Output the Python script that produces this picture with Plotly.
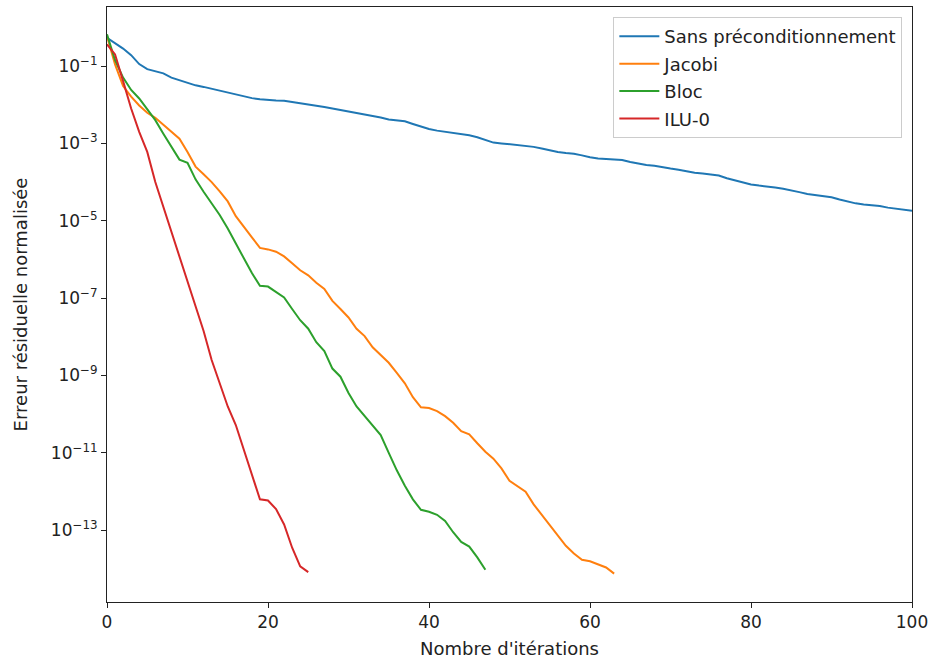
import numpy as np
import plotly.graph_objects as go

# log10 of normalized residual
sans_log = [-0.27, -0.40, -0.55, -0.72, -0.95, -1.08, -1.14, -1.19, -1.30, -1.37,
            -1.42, -1.50, -1.54, -1.59, -1.65, -1.70, -1.74, -1.80, -1.83, -1.86,
            -1.88, -1.89, -1.90, -1.93, -1.96, -2.00, -2.03, -2.06, -2.10, -2.14,
            -2.18, -2.21, -2.24, -2.28, -2.33, -2.38, -2.40, -2.43, -2.50, -2.57,
            -2.63, -2.67, -2.70, -2.72, -2.75, -2.79, -2.84, -2.92, -2.98, -3.00,
            -3.02, -3.04, -3.06, -3.09, -3.13, -3.18, -3.22, -3.25, -3.27, -3.31,
            -3.36, -3.39, -3.40, -3.41, -3.43, -3.48, -3.52, -3.56, -3.58, -3.62,
            -3.65, -3.68, -3.72, -3.76, -3.78, -3.80, -3.83, -3.90, -3.96, -4.02,
            -4.06, -4.09, -4.11, -4.14, -4.17, -4.21, -4.26, -4.31, -4.34, -4.36,
            -4.39, -4.45, -4.51, -4.55, -4.58, -4.60, -4.62, -4.66, -4.69, -4.72,
            -4.74]
jacobi_log = [-0.23, -0.96, -1.52, -1.79, -2.02, -2.21, -2.34, -2.52, -2.70, -2.88,
              -3.22, -3.60, -3.80, -4.00, -4.24, -4.50, -4.88, -5.14, -5.43, -5.70,
              -5.74, -5.80, -5.92, -6.10, -6.28, -6.41, -6.60, -6.76, -7.07, -7.28,
              -7.50, -7.79, -7.98, -8.27, -8.47, -8.67, -8.93, -9.20, -9.56, -9.82,
              -9.84, -9.92, -10.05, -10.22, -10.44, -10.52, -10.75, -10.97, -11.15, -11.40,
              -11.72, -11.87, -12.00, -12.33, -12.60, -12.88, -13.15, -13.40, -13.60, -13.76,
              -13.80, -13.88, -13.96, -14.12]
bloc_log = [-0.18, -0.85, -1.30, -1.62, -1.84, -2.12, -2.40, -2.75, -3.08, -3.42,
            -3.50, -3.93, -4.25, -4.55, -4.85, -5.20, -5.60, -5.97, -6.35, -6.68,
            -6.70, -6.83, -6.98, -7.28, -7.57, -7.79, -8.14, -8.37, -8.82, -9.03,
            -9.45, -9.80, -10.05, -10.30, -10.54, -11.00, -11.45, -11.85, -12.20, -12.47,
            -12.52, -12.60, -12.76, -13.05, -13.30, -13.42, -13.70, -14.02]
ilu_log = [-0.44, -0.70, -1.39, -2.10, -2.70, -3.22, -4.00, -4.65, -5.25, -5.95,
           -6.60, -7.20, -7.85, -8.60, -9.20, -9.80, -10.28, -10.92, -11.57, -12.20,
           -12.23, -12.45, -12.85, -13.45, -13.93, -14.08]

series_names = ["Sans préconditionnement", "Jacobi", "Bloc", "ILU-0"]
series_colors = ["#1f77b4", "#ff7f0e", "#2ca02c", "#d62728"]
series_logs = [sans_log, jacobi_log, bloc_log, ilu_log]

ytick_exps = [-1, -3, -5, -7, -9, -11, -13]
xtick_vals = [0, 20, 40, 60, 80, 100]

fig = go.Figure()
for i, (name, col, lg) in enumerate(zip(series_names, series_colors, series_logs)):
    fig.add_trace(go.Scatter(
        x=list(range(len(lg))), y=[10 ** v for v in lg], mode="lines",
        name=name, legendgroup=f"g{i}",
        line=dict(color=col, width=2),
    ))

axis_common = dict(showline=True, linecolor="#222", linewidth=1, mirror=True,
                   ticks="outside", ticklen=5, tickwidth=1, tickcolor="#222",
                   showgrid=False, zeroline=False, automargin=False,
                   tickfont=dict(family="DejaVu Sans", size=17, color="#222"))

fig.update_layout(
    width=930, height=662,
    margin=dict(l=107, r=18, t=7, b=60),
    paper_bgcolor="white", plot_bgcolor="white",
    font=dict(family="DejaVu Sans", size=18, color="#222"),
    xaxis=dict(range=[0, 100], tickvals=xtick_vals,
               title=dict(text="Nombre d'itérations", font=dict(size=18), standoff=10),
               **axis_common),
    yaxis=dict(type="log", range=[-14.853, 0.525],
               tickvals=[10 ** e for e in ytick_exps],
               ticktext=[f"10<sup>−{abs(e)}</sup>" for e in ytick_exps],
               title=dict(text="Erreur résiduelle normalisée", font=dict(size=18), standoff=18),
               **axis_common),
    legend=dict(x=0.988, y=0.983, xanchor="right", yanchor="top",
                bgcolor="rgba(255,255,255,0.8)", bordercolor="#cccccc", borderwidth=1,
                font=dict(family="DejaVu Sans", size=18, color="#222"),
                traceorder="grouped", tracegroupgap=1, itemwidth=40),
    showlegend=True,
)

fig.write_html("out.html", config={"displayModeBar": False},
               post_script="document.body.style.margin='0';")
